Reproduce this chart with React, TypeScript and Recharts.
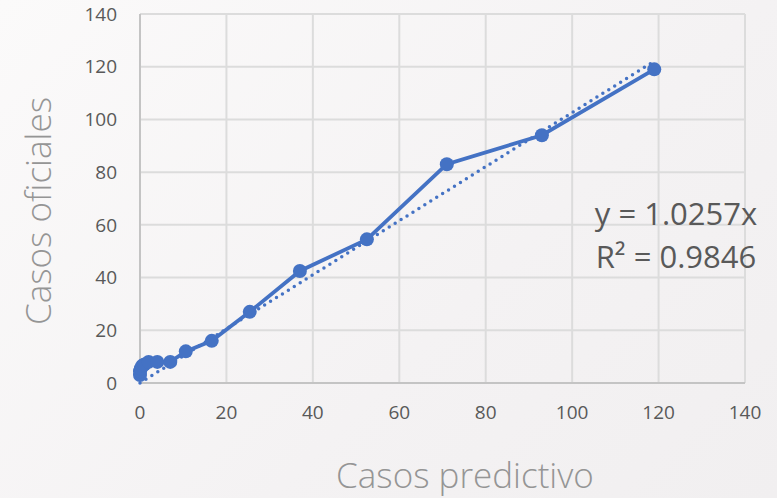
import { ScatterChart, Scatter, XAxis, YAxis, CartesianGrid, Label } from "recharts";

// values
const predictivo = [0, 0, 0.2, 0.5, 1, 2, 4, 7, 10.6, 16.6, 25.4, 37, 52.5, 71, 93, 119];
const oficiales = [3, 4.5, 5.5, 6.5, 7, 8, 8, 8, 12, 16, 27, 42.5, 54.5, 83, 94, 119];

// linear trendline (y = 1.0257x), endpoints
const trendX = [0, 119];
const trendY = [0, 122.1];

const ticks = [0, 20, 40, 60, 80, 100, 120, 140];

const points = predictivo.map((x, i) => ({ x, y: oficiales[i] }));
const trend = trendX.map((x, i) => ({ x, y: trendY[i] }));

const blue = "#4472C4";
const tickStyle = { fontFamily: "'Open Sans', sans-serif", fontSize: 19, fill: "#595959" };
const titleStyle = { fontFamily: "'Open Sans', sans-serif", fontWeight: 300, fontSize: 35, fill: "#959595" };

export default function App() {
  return (
    <div
      style={{
        position: "absolute",
        left: 0,
        top: 0,
        width: 777,
        height: 498,
        background: "linear-gradient(135deg, #fbfafa 0%, #f4f2f3 60%, #f1eff0 100%)",
      }}
    >
      <ScatterChart width={777} height={498} margin={{ top: 14, right: 32, bottom: 0, left: 0 }}>
        <CartesianGrid stroke="#dcdcdc" strokeWidth={2} />
        <XAxis
          type="number"
          dataKey="x"
          domain={[0, 140]}
          ticks={ticks}
          height={115}
          tickLine={false}
          tickMargin={17}
          axisLine={{ stroke: "#c4c4c4", strokeWidth: 2 }}
          tick={tickStyle}
        >
          <Label
            content={() => (
              <text x={465} y={488} textAnchor="middle" style={titleStyle}>
                Casos predictivo
              </text>
            )}
          />
        </XAxis>
        <YAxis
          type="number"
          dataKey="y"
          domain={[0, 140]}
          ticks={ticks}
          width={140}
          tickLine={false}
          tickMargin={17}
          axisLine={{ stroke: "#c4c4c4", strokeWidth: 2 }}
          tick={tickStyle}
        >
          <Label
            content={() => (
              <text
                x={51}
                y={211}
                textAnchor="middle"
                transform="rotate(-90 51 211)"
                style={titleStyle}
              >
                Casos oficiales
              </text>
            )}
          />
        </YAxis>
        <Scatter
          data={trend}
          line={{ stroke: blue, strokeWidth: 3.5, strokeDasharray: "0 7", strokeLinecap: "round" }}
          shape={() => <g />}
          isAnimationActive={false}
        />
        <Scatter
          data={points}
          fill={blue}
          line={{ stroke: blue, strokeWidth: 3.8 }}
          shape={(p: any) => <circle cx={p.cx} cy={p.cy} r={7} fill={blue} />}
          isAnimationActive={false}
        />
        <text x={676} y={225} textAnchor="middle" style={{ ...tickStyle, fontSize: 31 }}>
          y = 1.0257x
        </text>
        <text x={676} y={268} textAnchor="middle" style={{ ...tickStyle, fontSize: 31 }}>
          R² = 0.9846
        </text>
      </ScatterChart>
    </div>
  );
}
